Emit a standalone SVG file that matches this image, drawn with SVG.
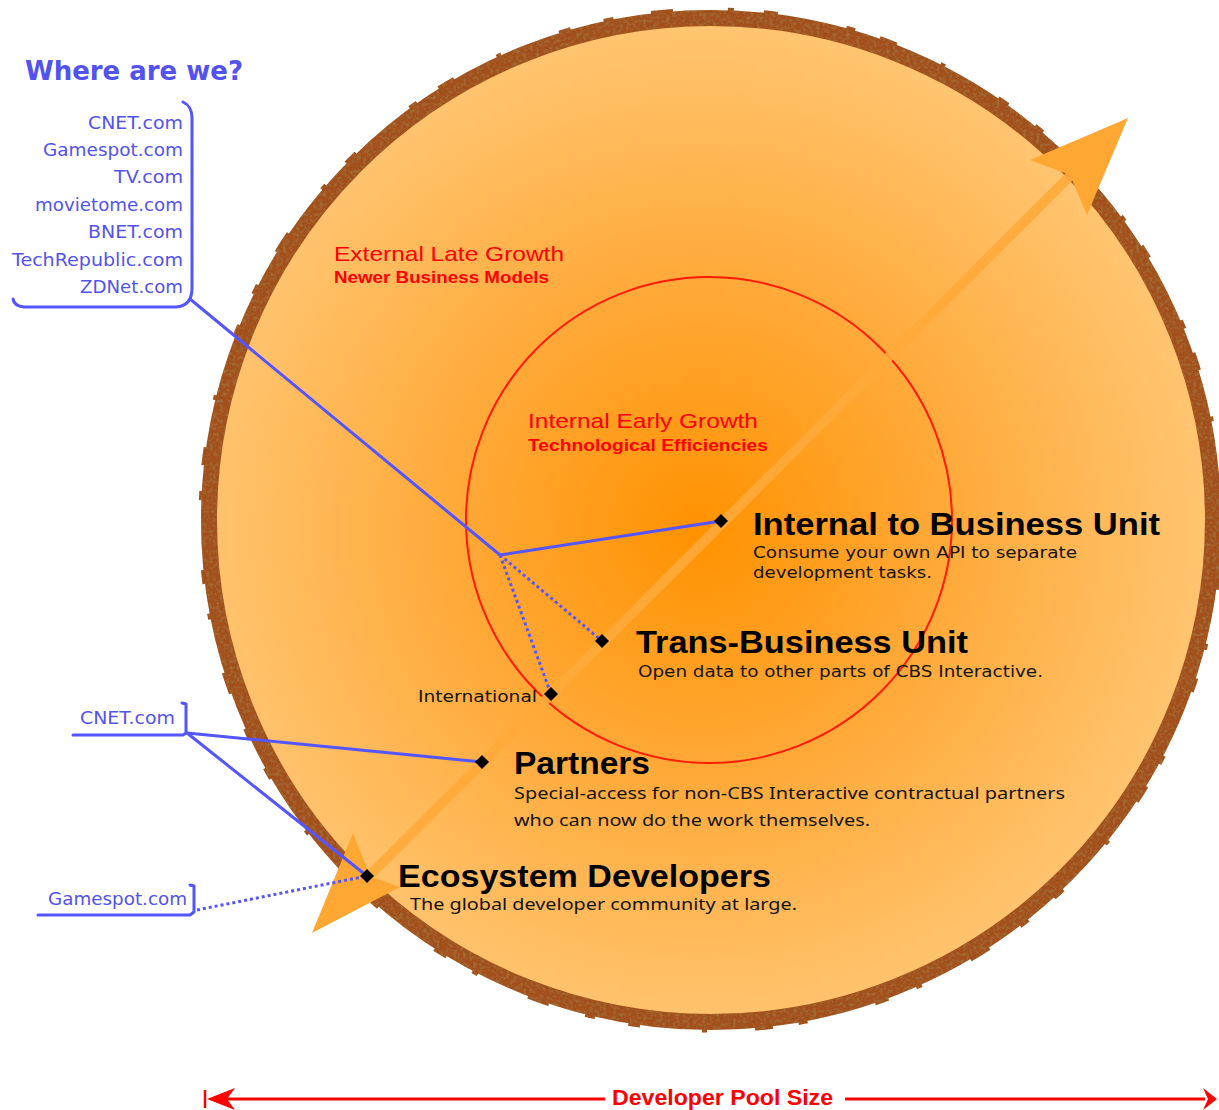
<svg xmlns="http://www.w3.org/2000/svg" width="1219" height="1110" viewBox="0 0 1219 1110">
<defs>
<radialGradient id="g" cx="700" cy="530" r="500" gradientUnits="userSpaceOnUse">
<stop offset="0" stop-color="#FF9200"/>
<stop offset="0.45" stop-color="#FFA734"/>
<stop offset="1" stop-color="#FFC46F"/>
</radialGradient>
<filter id="tex" x="-5%" y="-5%" width="110%" height="110%">
<feTurbulence type="fractalNoise" baseFrequency="0.3" numOctaves="2" seed="4" result="n"/>
<feColorMatrix in="n" type="matrix" values="0 0 0 0 0.36  0 0 0 0 0.16  0 0 0 0 0.04  0 0 0 2.6 -1.15" result="spots"/>
<feComposite in="spots" in2="SourceGraphic" operator="in" result="s2"/>
<feMerge><feMergeNode in="SourceGraphic"/><feMergeNode in="s2"/></feMerge>
</filter>
<style>
.blue{fill:#5252F2;font-family:"DejaVu Sans",sans-serif}
.list{font-size:17px;text-anchor:end}
.bl{fill:none;stroke:#5555FF;stroke-width:3;stroke-linecap:round;stroke-linejoin:round}
.dot{fill:none;stroke:#5555FF;stroke-width:3;stroke-dasharray:3 3}
.red{fill:#FF0000;font-family:"Liberation Sans",Arial,sans-serif}
.head{fill:#000;font-family:"Liberation Sans",Arial,sans-serif;font-weight:bold}
.sub{fill:#141414;font-family:"DejaVu Sans",sans-serif;font-size:16px}
.sub2{fill:#141414;font-family:"Noto Sans",sans-serif;font-size:17px}
.dia{fill:#000}
</style>
</defs>

<g id="pool">
<circle cx="711" cy="520" r="496" fill="url(#g)"/>
<g filter="url(#tex)">
<circle cx="711" cy="520" r="502" fill="none" stroke="#A3501E" stroke-width="16"/>
<circle cx="711" cy="520" r="510" fill="none" stroke="#A3501E" stroke-width="5" stroke-dasharray="10 38 22 55 6 30 14 70 9 26 18 48 5 62 12 34"/>
</g>
<circle cx="709" cy="520" r="243" fill="none" stroke="#FF1A00" stroke-width="2"/>
</g>

<g id="growth-arrow">
<line x1="350" y1="895" x2="1090" y2="156" stroke="#FFAA3A" stroke-width="10" opacity="0.9"/>
<polygon points="1128,118 1030,160 1070,175 1087,215" fill="#FFA733"/>
<polygon points="312,933 353,833 370,876 400,887" fill="#FFA733"/>
</g>

<g id="labels-growth">
<text class="red" x="334" y="261" font-size="21" textLength="230" lengthAdjust="spacingAndGlyphs">External Late Growth</text>
<text class="red" x="334" y="283" font-size="16" font-weight="bold" textLength="215" lengthAdjust="spacingAndGlyphs">Newer Business Models</text>
<text class="red" x="528" y="428" font-size="21" textLength="230" lengthAdjust="spacingAndGlyphs">Internal Early Growth</text>
<text class="red" x="528" y="451" font-size="16" font-weight="bold" textLength="240" lengthAdjust="spacingAndGlyphs">Technological Efficiencies</text>
</g>

<g id="connectors">
<polyline class="bl" points="190,299 500,555 721,521"/>
<line class="dot" x1="500" y1="555" x2="602" y2="641"/>
<line class="dot" x1="500" y1="555" x2="551" y2="694"/>
<line class="bl" x1="187" y1="733" x2="482" y2="762"/>
<line class="bl" x1="187" y1="733" x2="367" y2="876"/>
<line class="dot" x1="197" y1="910" x2="367" y2="876"/>
</g>

<g id="where">
<text class="blue" x="25" y="80" font-size="27" font-weight="bold" textLength="218" lengthAdjust="spacingAndGlyphs">Where are we?</text>
<path class="bl" d="M183,102 Q192,106 192,118 L192,288 Q192,306 176,307 L24,307 Q14,306 13,299"/>
<g class="blue list">
<text x="183" y="129" textLength="95" lengthAdjust="spacingAndGlyphs">CNET.com</text>
<text x="183" y="156" textLength="140" lengthAdjust="spacingAndGlyphs">Gamespot.com</text>
<text x="183" y="183" textLength="69" lengthAdjust="spacingAndGlyphs">TV.com</text>
<text x="183" y="211" textLength="148" lengthAdjust="spacingAndGlyphs">movietome.com</text>
<text x="183" y="238" textLength="95" lengthAdjust="spacingAndGlyphs">BNET.com</text>
<text x="183" y="266" textLength="171" lengthAdjust="spacingAndGlyphs">TechRepublic.com</text>
<text x="183" y="293" textLength="103" lengthAdjust="spacingAndGlyphs">ZDNet.com</text>
</g>
</g>

<g id="cnet-bracket">
<text class="blue" x="80" y="724" font-size="17" textLength="95" lengthAdjust="spacingAndGlyphs">CNET.com</text>
<path class="bl" d="M182,703 L186,704 L186,733 L183,735 L73,735"/>
</g>

<g id="gamespot-bracket">
<text class="blue" x="48" y="905" font-size="17" textLength="139" lengthAdjust="spacingAndGlyphs">Gamespot.com</text>
<path class="bl" d="M190,885 L194,886 L194,912 L190,915 L38,915"/>
</g>

<g id="internal-bu">
<polygon class="dia" points="721,514 728,521 721,528 714,521"/>
<text class="head" x="753" y="535" font-size="32" textLength="407" lengthAdjust="spacingAndGlyphs">Internal to Business Unit</text>
<text class="sub" x="753" y="558" textLength="324" lengthAdjust="spacingAndGlyphs">Consume your own API to separate</text>
<text class="sub" x="753" y="578" textLength="179" lengthAdjust="spacingAndGlyphs">development tasks.</text>
</g>

<g id="trans-bu">
<polygon class="dia" points="602,634 609,641 602,648 595,641"/>
<text class="head" x="636" y="653" font-size="31" textLength="332" lengthAdjust="spacingAndGlyphs">Trans-Business Unit</text>
<text class="sub" x="638" y="677" textLength="405" lengthAdjust="spacingAndGlyphs">Open data to other parts of CBS Interactive.</text>
</g>

<g id="international">
<polygon class="dia" points="551,687 558,694 551,701 544,694"/>
<text class="sub" x="418" y="702" textLength="119" lengthAdjust="spacingAndGlyphs">International</text>
</g>

<g id="partners">
<polygon class="dia" points="482,755 489,762 482,769 475,762"/>
<text class="head" x="514" y="774" font-size="31" textLength="136" lengthAdjust="spacingAndGlyphs">Partners</text>
<text class="sub2" x="514" y="799" textLength="551" lengthAdjust="spacingAndGlyphs">Special-access for non-CBS Interactive contractual partners</text>
<text class="sub2" x="514" y="826" textLength="356" lengthAdjust="spacingAndGlyphs">who can now do the work themselves.</text>
</g>

<g id="ecosystem">
<polygon class="dia" points="367,869 374,876 367,883 360,876"/>
<text class="head" x="398" y="887" font-size="31" textLength="373" lengthAdjust="spacingAndGlyphs">Ecosystem Developers</text>
<text class="sub2" x="410" y="910" textLength="387" lengthAdjust="spacingAndGlyphs">The global developer community at large.</text>
</g>

<g id="pool-size">
<line x1="222" y1="1099" x2="605" y2="1099" stroke="#FF0000" stroke-width="3"/>
<line x1="845" y1="1099" x2="1205" y2="1099" stroke="#FF0000" stroke-width="3"/>
<line x1="205" y1="1090" x2="205" y2="1108" stroke="#FF0000" stroke-width="2.5"/>
<polygon points="207,1099 235,1088 227,1099 235,1110" fill="#FF0000"/>
<polygon points="1217,1099 1203,1088 1208,1099 1203,1110" fill="#FF0000"/>
<text class="red" x="612" y="1105" font-size="22" font-weight="bold" textLength="221" lengthAdjust="spacingAndGlyphs">Developer Pool Size</text>
</g>
</svg>
